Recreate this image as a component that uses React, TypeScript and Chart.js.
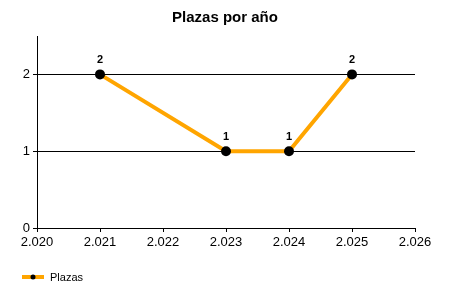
import React, { useEffect, useRef } from "react";
import { Chart, registerables } from "chart.js";

Chart.register(...registerables);

const titleText = "Plazas por año";
const seriesName = "Plazas";
const years = [2021, 2023, 2024, 2025];
const plazas = [2, 1, 1, 2];
const xMin = 2020;
const xMax = 2026;
const yMax = 2.5;

const FONT = "'Liberation Sans', Arial, sans-serif";
const ORANGE = "#FFA500";

const fmtYear = (v: number) => {
  const s = String(Math.round(v));
  return s.length > 3 ? s.slice(0, s.length - 3) + "." + s.slice(-3) : s;
};

const overlayPlugin = {
  id: "overlay",
  afterDatasetsDraw(chart: any) {
    const ctx = chart.ctx;
    const meta = chart.getDatasetMeta(0);
    ctx.save();
    // data labels
    ctx.fillStyle = "#000";
    ctx.font = `bold 11px ${FONT}`;
    ctx.textAlign = "center";
    ctx.textBaseline = "alphabetic";
    meta.data.forEach((pt: any, i: number) => {
      ctx.fillText(String(plazas[i]), pt.x, pt.y - 11);
    });
    // title
    ctx.font = `bold 15px ${FONT}`;
    ctx.textBaseline = "middle";
    ctx.fillText(titleText, 225, 18);
    // legend
    ctx.strokeStyle = ORANGE;
    ctx.lineWidth = 4;
    ctx.beginPath();
    ctx.moveTo(22, 277);
    ctx.lineTo(44, 277);
    ctx.stroke();
    ctx.fillStyle = "#000";
    ctx.beginPath();
    ctx.arc(33, 277, 2.5, 0, Math.PI * 2);
    ctx.fill();
    ctx.font = `11px ${FONT}`;
    ctx.textAlign = "left";
    ctx.fillText(seriesName, 50, 278);
    ctx.restore();
  },
};

export default function App() {
  const ref = useRef<HTMLCanvasElement>(null);
  useEffect(() => {
    if (!ref.current) return;
    const chart = new Chart(ref.current, {
      type: "line",
      data: {
        datasets: [
          {
            label: seriesName,
            data: years.map((y, i) => ({ x: y, y: plazas[i] })),
            borderColor: ORANGE,
            borderWidth: 4,
            pointBackgroundColor: "#000",
            pointBorderColor: "#000",
            pointRadius: 5,
            pointBorderWidth: 0,
            tension: 0,
          },
        ],
      },
      options: {
        animation: false,
        responsive: false,
        devicePixelRatio: 1,
        layout: { padding: { left: 0, right: 35, top: 36, bottom: 0 } },
        plugins: {
          legend: { display: false },
          title: { display: false },
          tooltip: { enabled: false },
        },
        scales: {
          x: {
            type: "linear",
            min: xMin,
            max: xMax,
            afterFit: (s: any) => {
              s.height = 72;
            },
            ticks: {
              stepSize: 1,
              color: "#000",
              font: { family: FONT, size: 13 },
              padding: 3,
              maxRotation: 0,
              callback: (v: any) => fmtYear(Number(v)),
            },
            grid: {
              drawOnChartArea: false,
              drawTicks: true,
              tickLength: 4,
              color: "#000",
            },
            border: { display: true, color: "#000", width: 1 },
          },
          y: {
            min: 0,
            max: yMax,
            afterFit: (s: any) => {
              s.width = 37;
            },
            ticks: {
              stepSize: 1,
              includeBounds: false,
              color: "#000",
              font: { family: FONT, size: 13 },
              padding: 3,
              callback: (v: any) => String(v),
            },
            grid: {
              color: "#000",
              tickLength: 4,
              drawTicks: true,
            },
            border: { display: true, color: "#000", width: 1 },
          },
        },
      },
      plugins: [overlayPlugin],
    } as any);
    return () => chart.destroy();
  }, []);
  return (
    <div style={{ position: "absolute", left: 0, top: 0, width: 450, height: 300, background: "#fff" }}>
      <canvas ref={ref} width={450} height={300} style={{ width: 450, height: 300 }} />
    </div>
  );
}
